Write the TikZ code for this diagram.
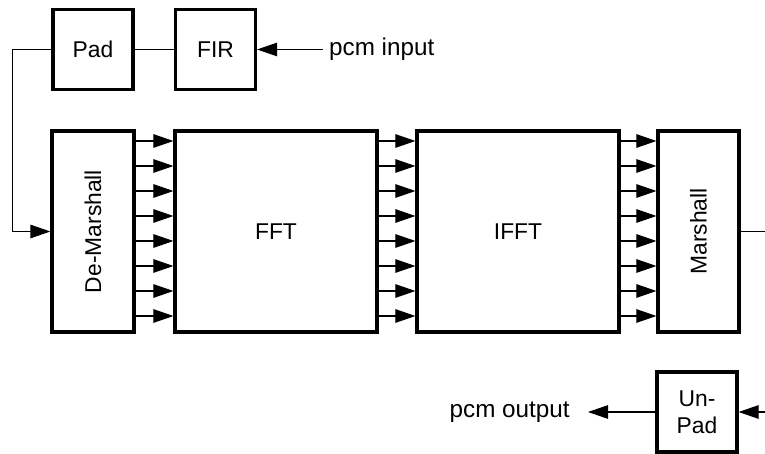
\documentclass[tikz,border=0pt]{standalone}
\usepackage{fontspec}
\setmainfont{Liberation Sans}
\usepackage{tikz}
\usetikzlibrary{arrows.meta,positioning}

\tikzset{
  blk/.style={draw, line width=1.8pt, minimum width=1.6cm, minimum height=1.6cm,
    inner sep=0pt, font=\fontsize{13}{15.4}\selectfont, align=center},
  tallblk/.style={blk, minimum width=1.64cm, minimum height=4.02cm},
  wire/.style={line width=0.6pt},
  sig/.style={wire, -{Triangle[length=0.4cm,width=0.27cm]}},
  lbl/.style={font=\fontsize{13.8}{16}\selectfont}
}

\begin{document}
\begin{tikzpicture}
  \useasboundingbox (0,0) rectangle (15.3,9.06);
  % input chain
  \node[blk] (pad) at (1.86,8.07) {Pad};
  \node[blk] (fir) at (4.31,8.07) {FIR};
  \node[lbl, right] (pcmin) at (6.46,8.07) {pcm input};
  % main blocks
  \node[tallblk] (dmx) at (1.86,4.43) {\rotatebox{90}{De-Marshall}};
  \node[tallblk, minimum width=4.04cm] (fft) at (5.52,4.43) {FFT};
  \node[tallblk, minimum width=4.04cm] (ifft) at (10.36,4.43) {IFFT};
  \node[tallblk, minimum width=1.62cm] (mrs) at (13.97,4.43) {\rotatebox{90}{Marshall}};
  % output chain
  \node[blk] (unpad) at (13.94,0.82) {Un-\\Pad};
  \node[lbl, left, inner xsep=0.36cm] (pcmout) at (11.76,0.82) {pcm output};
  \coordinate (mrsout) at (15.3,4.43);
  \coordinate (unpadin) at (15.3,0.82);

  \draw[sig] (pcmin.west) -- (fir.east);
  \draw[wire] (fir.west) -- (pad.east);
  \draw[sig] (pad.west) -- ++(-0.78,0) |- (dmx.west);
  \foreach \y in {6.24,5.74,5.24,4.74,4.24,3.74,3.24,2.74} {
    \draw[sig] (dmx.east |- {0,\y}) -- (fft.west |- {0,\y});
    \draw[sig] (fft.east |- {0,\y}) -- (ifft.west |- {0,\y});
    \draw[sig] (ifft.east |- {0,\y}) -- (mrs.west |- {0,\y});
  }
  \draw[wire] (mrs.east) -- (mrsout);
  \draw[sig] (unpadin) -- (unpad.east);
  \draw[sig] (unpad.west) -- (pcmout.east);
\end{tikzpicture}
\end{document}
